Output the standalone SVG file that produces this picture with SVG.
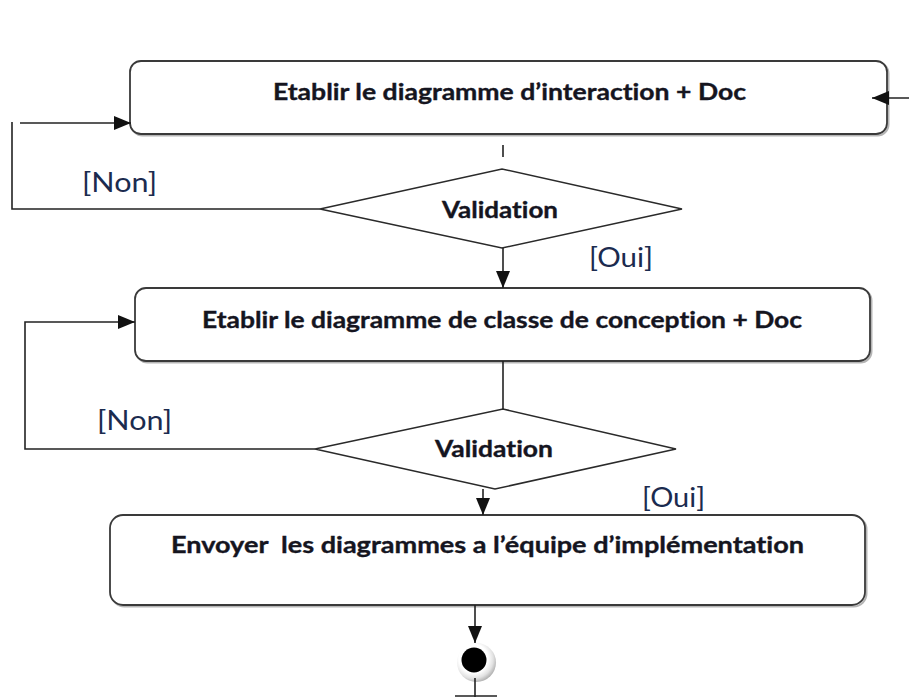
<svg xmlns="http://www.w3.org/2000/svg" width="909" height="697" viewBox="0 0 909 697">
  <defs>
    <marker id="arrow" viewBox="0 0 17 14" refX="17" refY="7" markerWidth="17" markerHeight="14" markerUnits="userSpaceOnUse" orient="auto">
      <path d="M0,0 L17,7 L0,14 Z" fill="#111"/>
    </marker>
    <radialGradient id="ring" cx="0.42" cy="0.4" r="0.62">
      <stop offset="0.6" stop-color="#ffffff"/>
      <stop offset="0.82" stop-color="#e2e2e2"/>
      <stop offset="1" stop-color="#b0b0b0"/>
    </radialGradient>
  </defs>
  <style>
    .shadow { fill: none; stroke: #b5b5b5; stroke-width: 2; }
    .box { fill: #ffffff; stroke: #3a3a3a; stroke-width: 1.8; }
    .dia { fill: #ffffff; stroke: #2a2a2a; stroke-width: 1.5; }
    text { font-variant-ligatures: none; }
    .label { font-family: Lato, "Liberation Sans", Arial, sans-serif; font-weight: bold; font-size: 22px; fill: #15151f; stroke: #15151f; stroke-width: 0.35; }
    .guard { font-family: Lato, "Liberation Sans", Arial, sans-serif; font-size: 27px; fill: #1b2b4f; }
    .conn { fill: none; stroke: #222; stroke-width: 1.6; }
  </style>

  <rect width="909" height="697" fill="#ffffff"/>

  <!-- activity: interaction diagram -->
  <g id="act-interaction">
    <rect class="shadow" x="131.5" y="62.5" width="757" height="73" rx="11"/>
    <rect class="box" x="130" y="61" width="757" height="73" rx="11"/>
    <text class="label" x="273" y="100" textLength="473" lengthAdjust="spacingAndGlyphs">Etablir le diagramme d’interaction + Doc</text>
  </g>

  <!-- decision 1 -->
  <g id="decision-1">
    <polygon class="dia" points="320,209 502,169 682,209 502,248"/>
    <text class="label" x="442" y="218" textLength="116" lengthAdjust="spacingAndGlyphs">Validation</text>
  </g>
  <text class="guard" x="82" y="192" textLength="75" lengthAdjust="spacingAndGlyphs">[Non]</text>
  <text class="guard" x="589" y="267" textLength="64" lengthAdjust="spacingAndGlyphs">[Oui]</text>

  <!-- activity: class diagram -->
  <g id="act-classes">
    <rect class="shadow" x="136.5" y="289.5" width="735" height="73" rx="11"/>
    <rect class="box" x="135" y="288" width="735" height="73" rx="11"/>
    <text class="label" x="202" y="328" textLength="600" lengthAdjust="spacingAndGlyphs">Etablir le diagramme de classe de conception + Doc</text>
  </g>

  <!-- decision 2 -->
  <g id="decision-2">
    <polygon class="dia" points="315,449 503,409 676,449 495,489"/>
    <text class="label" x="435" y="457" textLength="118" lengthAdjust="spacingAndGlyphs">Validation</text>
  </g>
  <text class="guard" x="97" y="430" textLength="75" lengthAdjust="spacingAndGlyphs">[Non]</text>
  <text class="guard" x="642" y="507" textLength="63" lengthAdjust="spacingAndGlyphs">[Oui]</text>

  <!-- activity: send diagrams -->
  <g id="act-send">
    <rect class="shadow" x="111.5" y="516.5" width="755" height="90" rx="13"/>
    <rect class="box" x="110" y="515" width="755" height="90" rx="13"/>
    <text class="label" x="171" y="553" textLength="633" lengthAdjust="spacingAndGlyphs" xml:space="preserve">Envoyer  les diagrammes a l’équipe d’implémentation</text>
  </g>

  <!-- final node -->
  <g id="final">
    <circle cx="476.5" cy="662.5" r="19.5" fill="url(#ring)"/>
    <circle cx="474" cy="660" r="12.5" fill="#000"/>
  </g>

  <!-- connectors (drawn last so arrowheads sit on the node borders) -->
  <g id="connectors">
    <line class="conn" x1="909" y1="98" x2="872" y2="98" marker-end="url(#arrow)"/>
    <line class="conn" x1="20" y1="123" x2="131" y2="123" marker-end="url(#arrow)"/>
    <polyline class="conn" points="320,209 12,209 12,122"/>
    <line class="conn" x1="503" y1="145" x2="503" y2="157"/>
    <line class="conn" x1="503" y1="248" x2="503" y2="288" marker-end="url(#arrow)"/>
    <polyline class="conn" points="315,449 25,449 25,322 135,322" marker-end="url(#arrow)"/>
    <line class="conn" x1="503" y1="361" x2="503" y2="409"/>
    <line class="conn" x1="483" y1="489" x2="483" y2="515" marker-end="url(#arrow)"/>
    <line class="conn" x1="475" y1="605" x2="475" y2="643" marker-end="url(#arrow)"/>
    <line class="conn" x1="475" y1="678" x2="475" y2="697"/>
    <line class="conn" x1="455" y1="696" x2="497" y2="696"/>
  </g>
</svg>
